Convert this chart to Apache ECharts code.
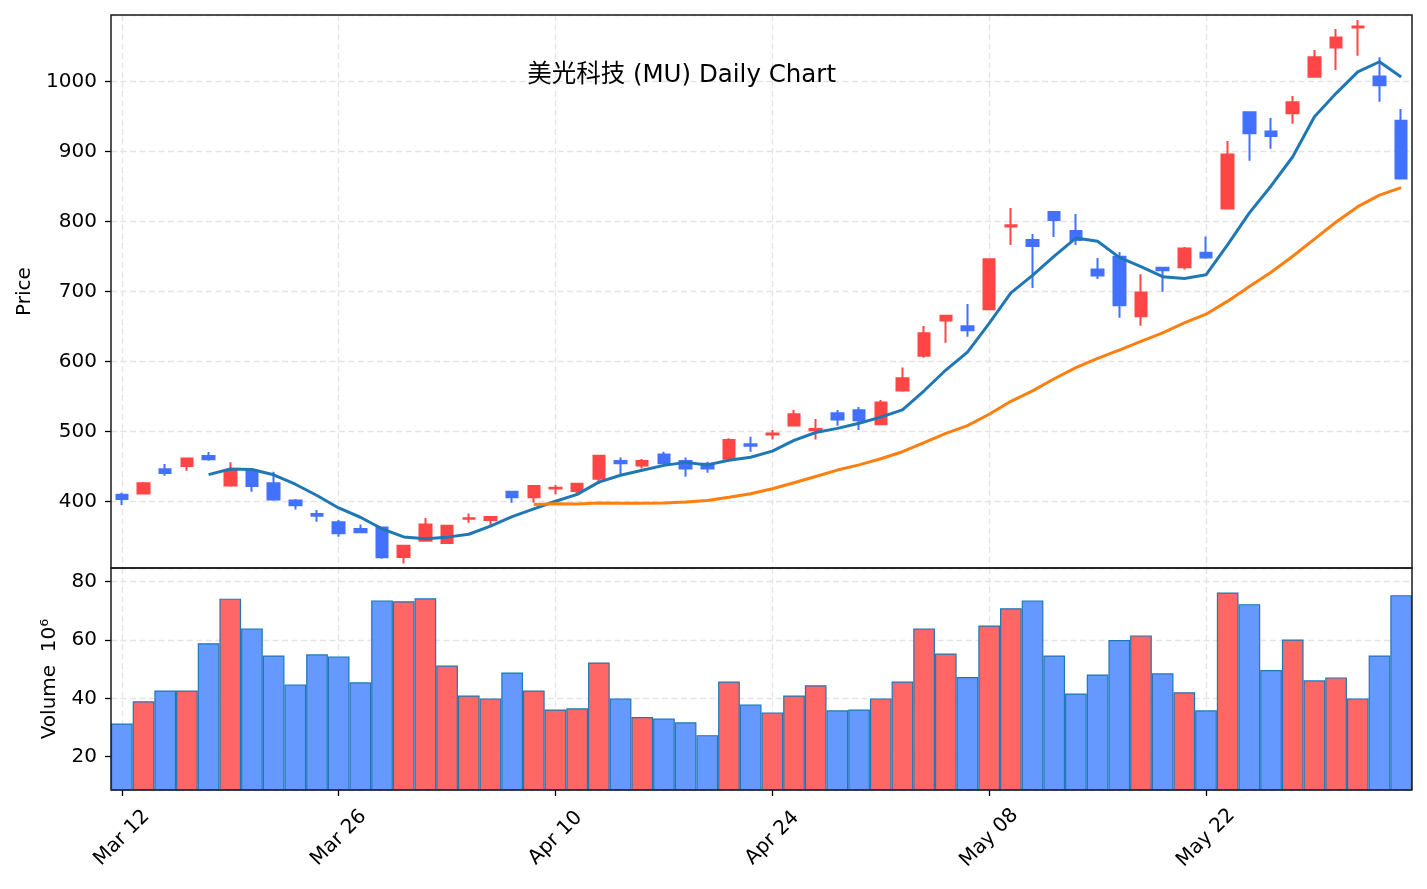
<!DOCTYPE html>
<html><head><meta charset="utf-8">
<script src="https://cdn.jsdelivr.net/npm/echarts@6/dist/echarts.min.js"></script>
<style>html,body{margin:0;padding:0;background:#fff}#chart{width:1427px;height:889px}</style>
</head><body><div id="chart"></div>
<script>
const titleText = '美光科技 (MU) Daily Chart';
const dates = ['Mar 12','Mar 13','Mar 16','Mar 17','Mar 18','Mar 19','Mar 20','Mar 23','Mar 24','Mar 25','Mar 26','Mar 27','Mar 30','Mar 31','Apr 01','Apr 02','Apr 06','Apr 07','Apr 08','Apr 09','Apr 10','Apr 13','Apr 14','Apr 15','Apr 16','Apr 17','Apr 20','Apr 21','Apr 22','Apr 23','Apr 24','Apr 27','Apr 28','Apr 29','Apr 30','May 01','May 04','May 05','May 06','May 07','May 08','May 11','May 12','May 13','May 14','May 15','May 18','May 19','May 20','May 21','May 22','May 26','May 27','May 28','May 29','Jun 01','Jun 02','Jun 03','Jun 04','Jun 05'];
const opens = [410,411.9,446.2,451,465.2,423.3,443.8,426.2,401.9,382.4,370.5,361,363.3,321,344.3,341,375.5,373.8,414.3,406.2,419,415.2,432.9,458,451.9,467.6,458.1,454.3,461.4,482,496,509,502,526.2,530.5,510.5,559,608.6,659,650.5,674.8,793,773.9,813.9,786.7,731.9,750,664.8,734.3,734.8,755.7,819,956.2,929,954.8,1007.1,1049,1077.5,1007.6,944.3];
const closes = [403.8,426.2,441,461.9,460.5,443.8,422.4,403.3,394.8,380,354.8,356.2,320.5,337.1,367.6,365.7,376.5,378.1,406.2,422.4,420,425.7,465.7,455,458.1,454.8,447.6,447.6,488.1,480,497.5,524.8,504,517.6,516.2,541.9,576.2,640.5,665.7,644.8,746.2,795,765.3,802.4,773.9,723.3,680.5,699,730.5,761.9,749,896,926.2,922.4,970.5,1034.8,1063.3,1079,994.8,861.9];
const lows = [395.2,411,437.1,444.3,458.6,421.4,414.3,401.4,389,371.4,350,355.5,318.6,311.9,343.3,340,370,366.7,398.6,398.6,410.5,411.9,425.2,439.5,447.6,454.2,435.7,441.4,460.8,471.4,489,508.5,489,508.6,502.4,510,557,605.7,627.1,635.7,674,766.7,705.3,778.1,766.7,718.1,662.9,651.4,700,731.9,747.1,818.5,887.1,904.3,940,1006.5,1016.7,1037.1,971.4,861.5];
const highs = [412.9,428,453.8,462.5,471,456.2,444.5,442.9,403.8,388.1,373.8,367.6,364,337.8,376.7,366.5,383.3,378.8,415,423.8,423.8,426.3,466.3,463.3,461,471.4,463.3,457,490.5,492.9,502.4,531,518,531,535.2,545.2,591.9,651,666.5,682.4,746.8,819.6,782.4,814.5,811,748.1,756.7,724.8,735,763.8,779,915.2,956.8,948.1,979.5,1045.2,1075.2,1088.1,1034.8,961];
const volumes = [31.4,39.0,42.7,42.7,58.9,74.2,64.0,54.7,44.8,55.1,54.4,45.5,73.6,73.3,74.3,51.3,41.0,40.0,48.9,42.7,36.2,36.6,52.3,40.0,33.6,33.1,31.8,27.4,45.8,37.9,35.2,41.0,44.5,35.9,36.2,40.0,45.8,64.0,55.4,47.3,65.0,70.9,73.6,54.7,41.7,48.2,60.0,61.6,48.6,42.1,35.9,76.3,72.3,49.7,60.2,46.2,47.2,40.0,54.7,75.4];
const ma5 = ['-','-','-','-',438.7,446.7,445.9,438.4,425.0,408.9,391.1,377.8,361.3,349.7,347.2,349.4,353.5,365.0,378.8,389.8,400.6,410.5,428.0,437.8,444.9,451.9,456.2,452.6,459.2,463.6,472.2,487.6,498.9,504.8,512.0,520.9,531.2,558.5,588.1,613.8,654.7,698.4,723.4,750.7,776.6,772.0,749.1,735.8,721.4,719.0,724.2,767.3,812.7,851.1,892.8,950.0,983.4,1014.0,1028.5,1006.8];
const ma20 = ['-','-','-','-','-','-','-','-','-','-','-','-','-','-','-','-','-','-','-',396.1,397.0,396.9,398.2,397.8,397.7,398.2,399.5,401.7,406.4,411.4,418.5,427.0,436.1,445.2,452.6,461.4,471.4,484.5,497.5,508.6,524.9,543.4,558.3,575.7,591.5,604.9,616.6,629.1,641.3,655.4,667.9,686.5,707.6,727.8,750.6,775.2,799.6,821.5,837.9,848.8];

const FONT = '"DejaVu Sans", "Noto Sans CJK SC", sans-serif';
const isTick = (i) => i % 10 === 0;
const upColor = '#ff4545', downColor = '#4270ff';
const volUp = '#ff6666', volDown = '#6699ff';
const vSplit = {show: true, interval: (i) => isTick(i), alignWithLabel: true,
  lineStyle: {color: '#e4e4e4', width: 1.3, type: [6, 3.5]}};
const hSplit = {show: true, lineStyle: {color: '#e4e4e4', width: 1.3, type: [6, 3.5]}};
const yLabel = {fontSize: 20, color: '#000', fontFamily: FONT, margin: 14, showMinLabel: false, showMaxLabel: false,
  formatter: (v) => String(v)};
const yTick = {show: true, length: 6, lineStyle: {color: '#000', width: 1.3}};

const candleData = opens.map((o, i) => [o, closes[i], lows[i], highs[i]]);
const volData = volumes.map((v, i) => ({value: v, itemStyle: {color: closes[i] >= opens[i] ? volUp : volDown}}));

const chart = echarts.init(document.getElementById('chart'), null, {renderer: 'canvas'});
chart.setOption({
  animation: false,
  backgroundColor: '#fff',
  textStyle: {fontFamily: FONT},
  graphic: [{type: 'text', x: 836, y: 76, z: 100,
    style: {text: titleText, font: '24.5px "DejaVu Sans", "Noto Sans CJK SC"', fill: '#000', align: 'right', verticalAlign: 'middle'}}],
  grid: [
    {left: 111, right: 15, top: 15, height: 553, show: true, z: 5, borderColor: '#1a1a1a', borderWidth: 1.5, backgroundColor: 'rgba(0,0,0,0)'},
    {left: 111, right: 15, top: 568, height: 222, show: true, z: 5, borderColor: '#1a1a1a', borderWidth: 1.5, backgroundColor: 'rgba(0,0,0,0)'}
  ],
  xAxis: [
    {type: 'category', gridIndex: 0, data: dates, boundaryGap: true,
      axisLine: {show: false}, axisTick: {show: false}, axisLabel: {show: false}, splitLine: vSplit},
    {type: 'category', gridIndex: 1, data: dates, boundaryGap: true,
      axisLine: {show: false},
      axisTick: {show: true, interval: (i) => isTick(i), alignWithLabel: true, length: 6, lineStyle: {color: '#000', width: 1.3}},
      axisLabel: {interval: (i) => isTick(i), rotate: 45, align: 'center', verticalAlign: 'middle', margin: 48,
        fontSize: 20, color: '#000', fontFamily: FONT},
      splitLine: vSplit}
  ],
  yAxis: [
    {type: 'value', gridIndex: 0, min: 305.3, max: 1095.3, splitNumber: 8,
      axisLine: {show: false}, axisTick: yTick, axisLabel: yLabel, splitLine: hSplit,
      name: 'Price', nameLocation: 'middle', nameGap: 68,
      nameTextStyle: {fontSize: 20, color: '#000', fontFamily: FONT}},
    {type: 'value', gridIndex: 1, min: 8.6, max: 84.7, splitNumber: 4,
      axisLine: {show: false}, axisTick: yTick, axisLabel: yLabel, splitLine: hSplit,
      name: 'Volume  10⁶', nameLocation: 'middle', nameGap: 51,
      nameTextStyle: {fontSize: 20, color: '#000', fontFamily: FONT}}
  ],
  series: [
    {type: 'candlestick', name: 'MU', xAxisIndex: 0, yAxisIndex: 0, data: candleData, barWidth: 12, z: 2,
      itemStyle: {color: upColor, color0: downColor, borderColor: upColor, borderColor0: downColor, borderWidth: 2}},
    {type: 'line', name: 'MA5', xAxisIndex: 0, yAxisIndex: 0, data: ma5, symbol: 'none', z: 3,
      lineStyle: {color: '#1f77b4', width: 3}},
    {type: 'line', name: 'MA20', xAxisIndex: 0, yAxisIndex: 0, data: ma20, symbol: 'none', z: 3,
      lineStyle: {color: '#ff7f0e', width: 3}},
    {type: 'bar', name: 'Volume', xAxisIndex: 1, yAxisIndex: 1, data: volData, barCategoryGap: '0%', z: 2,
      itemStyle: {borderColor: '#1f77b4', borderWidth: 1.2}}
  ]
});
</script></body></html>
